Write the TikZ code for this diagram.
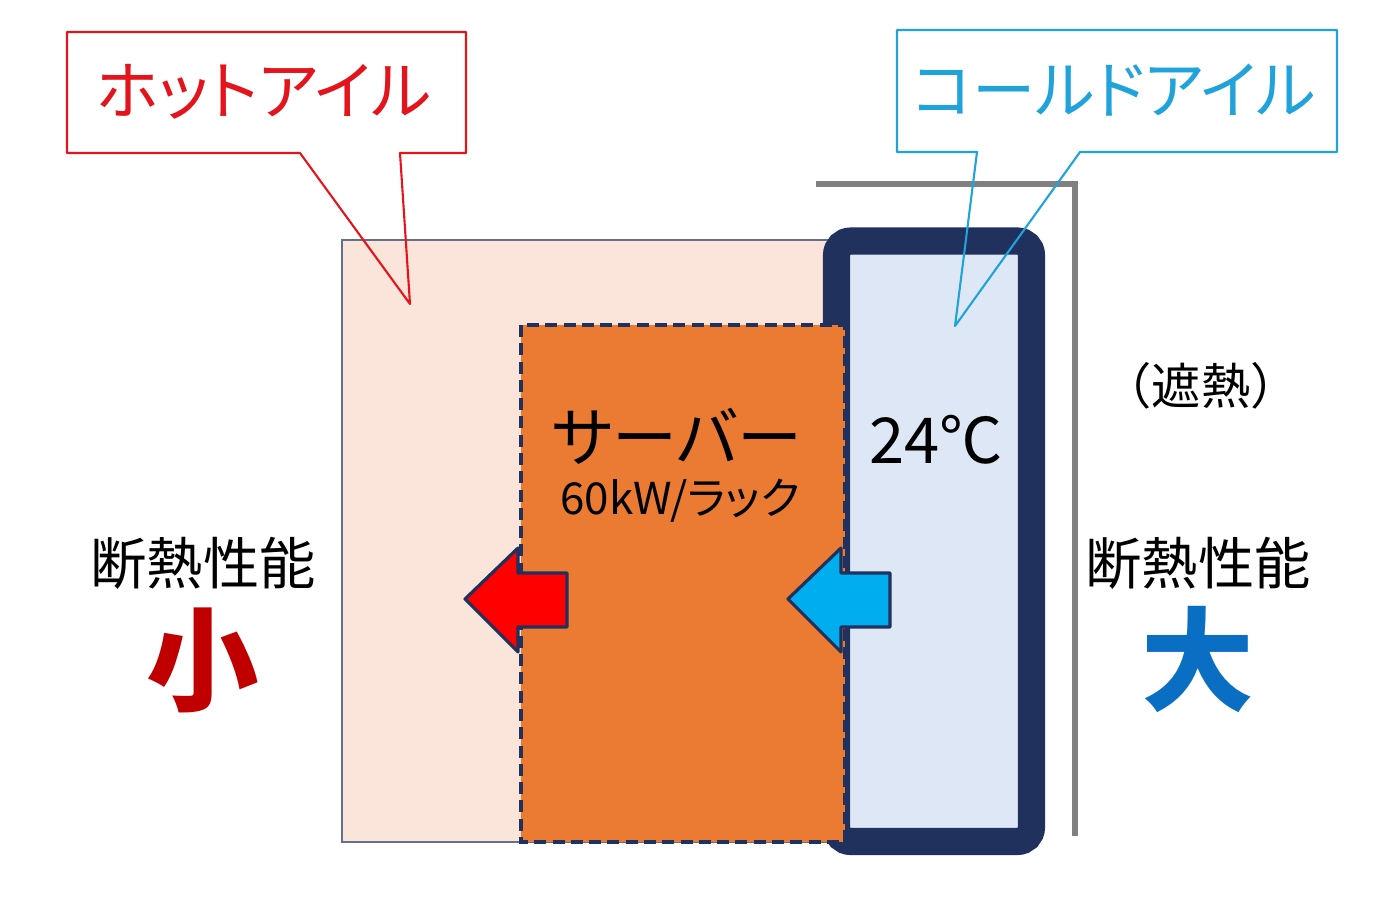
\documentclass[tikz,border=0pt]{standalone}
\usepackage{fontspec}
\setmainfont{Noto Sans CJK JP}
\newfontfamily\jpprop[RawFeature=+palt]{Noto Sans CJK JP}
\definecolor{hotred}{HTML}{E3141B}
\definecolor{coldblue}{HTML}{1FA3DA}
\definecolor{pinkfill}{HTML}{FBE4D9}
\definecolor{serverorange}{HTML}{EB7A33}
\definecolor{navy}{HTML}{1F315C}
\definecolor{coldfill}{HTML}{DEE7F5}
\definecolor{wallgray}{HTML}{808080}
\definecolor{arrowred}{HTML}{FF0000}
\definecolor{arrowblue}{HTML}{00AEEF}
\definecolor{smallred}{HTML}{C00000}
\definecolor{bigblue}{HTML}{0A6FC2}
\begin{document}
\begin{tikzpicture}[x=0.01cm, y=-0.01cm,
	hotline/.style={draw=hotred, line width=0.6pt, line join=round},
	coldline/.style={draw=coldblue, line width=0.6pt, line join=round},
	label/.style={inner sep=0pt, font=\fontsize{16}{18}\selectfont}]
	\useasboundingbox (0,0) rectangle (1400,900);

	% hot aisle area
	\draw [fill=pinkfill, draw=navy!70, line width=0.5pt] (342,240) rectangle (846,842);

	% heat shield wall
	\draw [wallgray, line width=1.7pt] (816,184) -- (1075,184) -- (1075,836);

	% cold aisle
	\draw [navy, fill=coldfill, line width=7.7pt, rounded corners=4pt] (836.5,241) rectangle (1031.5,841.5);

	% server rack
	\draw [navy, fill=serverorange, line width=1.2pt, dash pattern=on 3.4pt off 1.8pt] (521,325) rectangle (845,842);

	% callouts
	\coordinate (hotTL) at (67,32);
	\coordinate (hotBR) at (466,153);
	\coordinate (hottip) at (410,304);
	\draw [hotline] (hotTL) -- (hotTL -| hotBR) -- (hotBR) -- (400,153) -- (hottip) -- (300,153) -- (hotTL |- hotBR) -- cycle;
	\node [text=hotred, font=\jpprop\fontsize{18.2}{20}\selectfont] (hottext) at (264,92) {ホットアイル};

	\coordinate (coldTL) at (897,30);
	\coordinate (coldBR) at (1337,152);
	\coordinate (coldtip) at (955,326);
	\draw [coldline] (coldTL) -- (coldTL -| coldBR) -- (coldBR) -- (1080,152) -- (coldtip) -- (977,152) -- (coldTL |- coldBR) -- cycle;
	\node [text=coldblue, font=\jpprop\fontsize{18}{20}\selectfont] (coldtext) at (1114,90) {コールドアイル};

	% arrows
	\foreach \tx/\col in {465/arrowred, 788/arrowblue}
		\draw [navy, fill=\col, line width=0.9pt, line join=round]
			(\tx,599) -- (\tx+53,548) -- (\tx+53,573) -- (\tx+102,573)
			-- (\tx+102,627) -- (\tx+53,627) -- (\tx+53,652) -- cycle;

	% texts
	\node [label, font=\jpprop\fontsize{18.5}{20}\selectfont] (server) at (677,436) {サーバー};
	\node [label, font=\jpprop\fontsize{12.5}{14}\selectfont] (power) at (680,501) {60kW/ラック};
	\node [label, font=\fontsize{18}{20}\selectfont] (temp) at (936,440) {24℃};
	\node [label, font=\fontsize{14}{16}\selectfont] (shield) at (1201,386) {（遮熱）};

	\node [label] (leftins) at (203,563) {断熱性能};
	\node [label, text=smallred, font=\fontsize{32}{34}\selectfont\bfseries] (small) at (203,660) {小};
	\node [label] (rightins) at (1198,563) {断熱性能};
	\node [label, text=bigblue, font=\fontsize{32}{34}\selectfont\bfseries] (big) at (1198,660) {大};
\end{tikzpicture}
\end{document}
